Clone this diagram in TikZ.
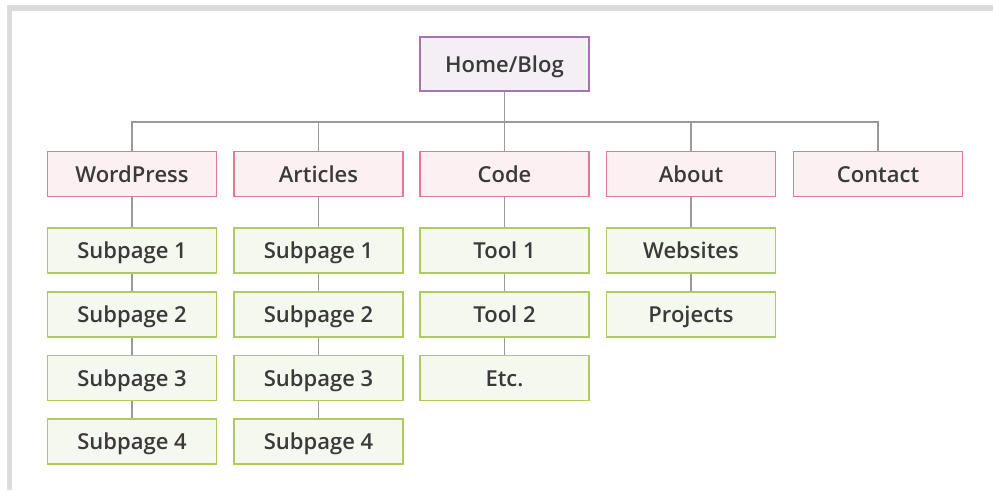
\documentclass[tikz,border=0pt]{standalone}
\usepackage{fontspec}
\setmainfont{Open Sans Semibold}
\usepackage{tikz}
\definecolor{framegray}{HTML}{DCDCDC}
\definecolor{textgray}{HTML}{3A3A3A}
\definecolor{linkgray}{HTML}{9A9A9A}
\definecolor{homeline}{HTML}{A674B2}
\definecolor{homefill}{HTML}{F4EEF5}
\definecolor{secline}{HTML}{E27A93}
\definecolor{secfill}{HTML}{FDF0F2}
\definecolor{subline}{HTML}{AECB62}
\definecolor{subfill}{HTML}{F5F8EE}
\tikzstyle{page}=[draw, line width=1.3pt, minimum width=169pt, minimum height=45pt, inner sep=0pt, text height=16.5pt, text depth=0.5pt, font=\fontsize{22}{25}\selectfont, text=textgray]
\tikzstyle{home}=[page, draw=homeline, fill=homefill, minimum height=54pt]
\tikzstyle{section}=[page, draw=secline, fill=secfill]
\tikzstyle{sub}=[page, draw=subline, fill=subfill]
\tikzstyle{link}=[draw=linkgray, line width=1.3pt]

\begin{document}
\begin{tikzpicture}[x=1pt,y=-1pt]
    \useasboundingbox (0,0) rectangle (993,490);
    \fill [framegray] (7,5) rectangle (993,11);
    \fill [framegray] (7,5) rectangle (12,490);
    % top
    \node [home] (home) at (504.5,64) {Home/Blog};
    \coordinate (bar) at (504.5,122);
    % sections
    \node [section] (wp)  at (132,174) {WordPress};
    \node [section] (art) at (318.5,174) {Articles};
    \node [section] (code) at (504.5,174) {Code};
    \node [section] (about) at (691,174) {About};
    \node [section] (contact) at (878,174) {Contact};
    % subpages
    \node [sub] (wp1) at (132,250.5) {Subpage 1};
    \node [sub] (wp2) at (132,314.5) {Subpage 2};
    \node [sub] (wp3) at (132,378) {Subpage 3};
    \node [sub] (wp4) at (132,441.5) {Subpage 4};
    \node [sub] (art1) at (318.5,250.5) {Subpage 1};
    \node [sub] (art2) at (318.5,314.5) {Subpage 2};
    \node [sub] (art3) at (318.5,378) {Subpage 3};
    \node [sub] (art4) at (318.5,441.5) {Subpage 4};
    \node [sub] (code1) at (504.5,250.5) {Tool 1};
    \node [sub] (code2) at (504.5,314.5) {Tool 2};
    \node [sub] (code3) at (504.5,378) {Etc.};
    \node [sub] (about1) at (691,250.5) {Websites};
    \node [sub] (about2) at (691,314.5) {Projects};
    % links
    \draw [link] (home.south) -- (bar) -| (wp.north);
    \draw [link] (bar) -| (art.north);
    \draw [link] (bar) -- (code.north);
    \draw [link] (bar) -| (about.north);
    \draw [link] (bar) -| (contact.north);
    \draw [link] (wp) -- (wp1) (wp1) -- (wp2) (wp2) -- (wp3) (wp3) -- (wp4);
    \draw [link] (art) -- (art1) (art1) -- (art2) (art2) -- (art3) (art3) -- (art4);
    \draw [link] (code) -- (code1) (code1) -- (code2) (code2) -- (code3);
    \draw [link] (about) -- (about1) (about1) -- (about2);
\end{tikzpicture}
\end{document}
